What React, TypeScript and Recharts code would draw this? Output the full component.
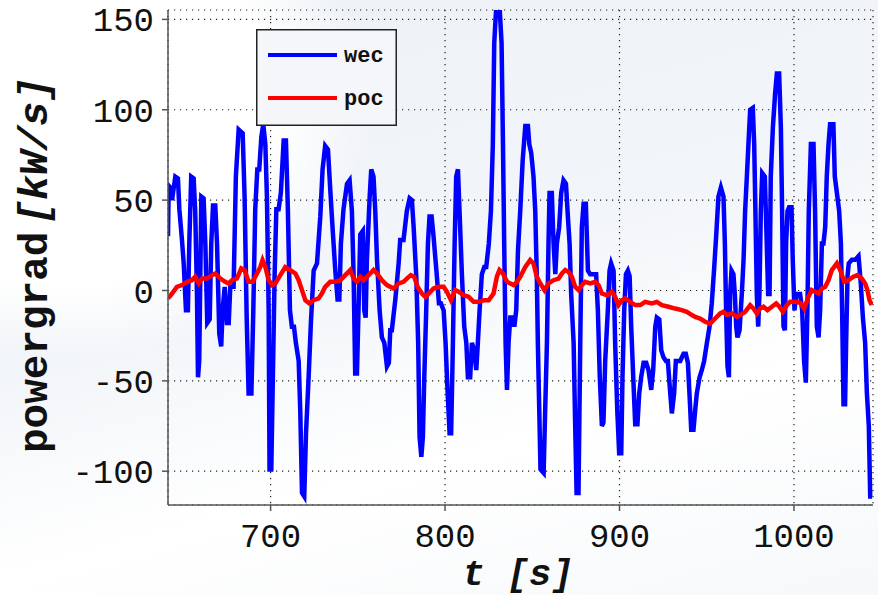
import { LineChart, Line, XAxis, YAxis, CartesianGrid, Legend } from "recharts";

// [t (s), powergrad (kW/s)]
const WEC: [number, number][] = [
  [641.2, 30], [641.6, 58], [642.5, 57], [643.5, 50], [645.4, 63], [646.9, 62], [647.7, 45], [649.2, 28], [650.2, 15], [651.5, -11],
  [652.6, -11], [653.4, 26], [654.5, 63], [655.9, 62], [656.8, 44], [657.8, -2], [658.4, -48], [659.1, -39], [660.3, 52], [661.6, 51],
  [662.6, 26], [663.7, -18], [665.1, -16], [666.0, 26], [667.0, 47], [668.3, 47], [669.3, 26], [670.6, -24], [671.7, -31], [672.5, -11],
  [673.7, 2], [675.0, -18], [676.0, -18], [676.9, 2], [678.8, 2], [680.1, 63], [681.7, 89], [684.0, 87], [685.1, 52], [686.3, -15],
  [687.4, -57], [689.0, -57], [690.1, -11], [691.2, 45], [692.4, 67], [693.5, 67], [694.7, 85], [695.8, 92], [697.0, 81], [697.9, 52],
  [698.9, -11], [699.4, -99], [700.4, -99], [701.3, -48], [702.3, 8], [703.3, 45], [704.6, 45], [705.9, 54], [707.5, 83], [708.8, 83],
  [709.9, 45], [711.1, -11], [712.2, -20], [713.4, -20], [714.5, -29], [716.1, -39], [717.0, -66], [718.0, -112], [719.3, -114], [720.3, -79],
  [721.8, -48], [723.1, -18], [724.7, 11], [726.6, 15], [728.5, 41], [729.8, 67], [731.3, 80], [732.9, 78], [734.2, 56], [735.5, 35],
  [737.1, 11], [738.4, -5], [739.4, -5], [740.3, 26], [741.8, 45],
  [743.8, 59], [745.3, 61], [746.6, 44], [747.6, 8], [748.5, -46], [749.5, -46], [750.4, -11], [751.4, 31], [752.9, 33], [753.7, -11],
  [754.5, -15], [755.2, 17], [756.8, 52], [757.7, 67], [759.0, 63], [760.0, 44], [761.0, 17], [762.5, -11], [763.8, -26], [765.2, -29],
  [766.7, -42], [767.8, -40], [768.6, -22], [769.5, -22], [771.5, -5], [773.4, 15], [774.3, 28], [776.2, 28], [778.1, 44], [779.7, 51],
  [781.0, 50], [782.0, 35], [783.5, 8], [784.6, -29], [785.4, -81], [786.4, -92], [787.3, -81], [788.1, -48], [789.2, -11], [790.2, 26],
  [791.1, 41], [792.3, 41], [793.4, 30], [795.3, 8], [796.5, -7], [797.6, -7], [799.2, -11], [800.3, -29], [801.4, -55], [802.6, -79],
  [803.5, -79], [804.5, -29], [805.5, 26], [806.4, 63], [807.4, 67], [808.3, 44], [809.7, 8], [811.0, -20], [812.2, -29], [813.1, -48],
  [814.4, -48], [815.4, -29], [816.7, -33], [817.9, -44], [818.8, -29], [819.8, -11], [821.1, 9], [822.5, 13], [823.6, 13], [825.1, 26],
  [826.3, 44], [827.4, 81], [828.2, 137], [829.3, 156], [831.3, 156], [832.4, 137], [833.2, 81], [833.9, 26], [834.7, -29], [835.5, -55],
  [836.4, -29], [837.4, -15], [838.7, -15], [839.7, -20], [840.8, -11], [841.8, 22], [843.1, 44],
  [844.5, 72], [846.0, 91], [847.5, 91], [848.3, 81], [849.4, 76], [850.7, 63], [851.7, 44], [852.6, 8], [853.2, -29], [854.0, -66],
  [854.7, -99], [856.5, -101], [857.4, -66], [858.4, -29], [859.3, 26], [859.9, 54], [861.2, 54], [862.2, 26], [863.2, 9], [864.1, 26],
  [865.4, 35], [866.6, 54], [867.9, 61], [869.3, 59], [870.4, 41], [871.4, 26], [872.3, -2], [873.7, -29], [874.6, -75], [875.4, -112],
  [876.5, -112], [877.5, -29], [878.4, 35], [879.4, 48], [880.7, 48], [881.9, 11], [883.2, 9], [885.1, 9], [886.6, 9], [887.6, -11],
  [888.7, -48], [889.9, -75], [890.8, -73], [891.8, -39], [893.3, -11], [894.3, 11], [895.2, 15], [896.6, 11], [897.5, -29], [898.7, -66],
  [899.8, -90], [901.0, -90], [901.7, -48], [902.7, -11], [903.7, 9], [904.8, 11], [905.8, 8], [906.7, -20], [908.0, -51], [909.0, -74],
  [910.3, -74], [911.3, -57], [912.4, -48], [913.8, -40], [915.3, -40], [916.6, -44], [918.2, -55], [919.3, -44], [920.5, -20], [921.4, -15],
  [922.8, -16], [923.9, -33], [925.2, -37], [926.6, -39], [927.7, -39], [929.1, -57], [930.0, -68], [931.3, -57], [932.3, -39], [933.4, -39],
  [934.8, -39], [936.7, -35], [938.0, -35], [939.2, -40], [940.1, -57], [941.1, -77], [942.4, -77], [943.4, -66],
  [944.3, -57], [945.9, -48], [947.2, -44], [948.5, -39], [950.1, -29], [951.6, -20], [952.9, -7], [954.3, 13], [955.4, 30], [956.7, 52],
  [958.1, 57], [959.6, 52], [960.4, 26], [961.1, -11], [961.9, -42], [962.7, -48], [963.4, -2], [964.2, 11], [965.3, 9], [966.1, -2],
  [966.9, -20], [967.6, -26], [968.8, -22], [970.1, -2], [971.1, 17], [972.0, 44], [973.0, 63], [973.9, 81], [974.9, 100], [976.4, 101],
  [977.2, 81], [977.9, 44], [978.7, -2], [979.5, -20], [980.2, -2], [981.0, 44], [981.8, 65], [983.3, 63], [984.4, 26], [985.2, -2],
  [986.0, -2], [986.7, 63], [987.9, 90], [989.2, 109], [990.2, 120], [991.5, 120], [992.5, 90], [993.2, 44], [994.0, -20], [994.8, -22],
  [995.5, 26], [996.3, 44], [997.2, 46], [998.6, 46], [999.3, 17], [1000.3, -11], [1001.3, -2], [1002.0, -2], [1003.5, -2], [1004.7, -11],
  [1005.8, -39], [1006.8, -51], [1007.7, -11], [1008.5, 44], [1009.7, 81], [1011.2, 81], [1012.1, 44], [1013.1, -20], [1014.1, -26], [1015.0, -11],
  [1016.0, 26], [1016.9, 26], [1017.9, 35], [1018.8, 63], [1019.8, 81], [1020.7, 92], [1022.6, 92], [1023.4, 63], [1024.6, 54], [1025.9, 44],
  [1026.9, 26], [1027.6, -11], [1028.4, -63], [1029.3, -63], [1029.9, -29], [1030.7, 8], [1031.4, 15], [1033.2, 17], [1035.1, 17], [1037.0, 19],
  [1038.3, 4], [1039.5, -15], [1040.8, -29], [1041.8, -57], [1042.9, -75], [1043.7, -114], [1044.8, -114],
];

const POC: [number, number][] = [
  [641.2, -4.4], [643.5, -1.7], [646.3, 2], [649.2, 3], [652.1, 4.8], [654.9, 5.7], [656.8, 7.6], [658.8, 3.9], [660.7, 6.6], [663.5, 6.6],
  [666.4, 8.5], [668.3, 9.4], [671.2, 6.6], [674.0, 4.8], [675.9, 3.9], [677.9, 5.7], [680.7, 6.6], [683.2, 12.2], [685.1, 11.3], [687.4, 4.8],
  [689.7, 4.8], [692.2, 9.4], [694.1, 13], [695.4, 16.8], [697.0, 13], [698.9, 5.7], [700.8, 3], [702.7, 3.9], [705.6, 8.5], [708.4, 13],
  [711.3, 11.3], [714.2, 9.4], [716.1, 5.7], [718.0, 0.2], [719.9, -5.4], [722.2, -7.2], [724.7, -5.4], [727.5, -4.4], [729.4, -1.7], [731.3, 2],
  [734.2, 4.8], [737.1, 4.8], [740.0, 5.7], [742.8, 8.5], [745.7, 11.3], [747.6, 6.6], [749.5, 4.8], [751.4, 7.6], [753.3, 5.7], [756.2, 8.5],
  [759.0, 11.3], [761.0, 9.4], [763.8, 5.7], [766.7, 3], [770.5, 1.1], [773.4, 3.9], [776.2, 4.8], [778.1, 6.6], [780.4, 8.5], [782.3, 7.6],
  [784.3, 2], [786.7, -1.7], [788.7, -3.5], [790.6, -1.7], [793.4, 1.1], [796.3, 2], [799.2, 2], [801.1, -0.7], [803.4, -5.4], [805.8, 0.2],
  [807.8, -0.7], [810.6, -2.6], [813.5, -3.5], [816.4, -6.3], [819.2, -6.3], [822.1, -5.4], [825.0, -5.4], [827.8, -1.7], [829.7, 7.6], [831.2, 11.3],
  [833.2, 9.4], [835.5, 4.8], [837.4, 3.9], [839.3, 3], [841.2, 4.8], [843.1, 7.6], [846.0, 13], [848.8, 16.8], [850.7, 14.9], [852.6, 7.6],
  [854.6, 3.9], [857.0, 0.2], [859.3, 3.9], [862.2, 5.7], [865.1, 6.6], [867.0, 9.4], [868.9, 11.3], [870.8, 10.3], [872.7, 7.6], [874.6, 2],
  [876.5, 0.2], [878.4, 2.9], [880.3, 4.8], [883.2, 3.9], [886.1, 4.8], [888.0, 2.9], [889.9, -1.7], [892.8, -2.6], [895.6, -0.7], [897.5, -3.5],
  [899.4, -8.1], [901.4, -5.4], [903.3, -4.4], [906.1, -6.3], [909.0, -8.1], [911.9, -8.1], [914.7, -6.3], [918.5, -7.2], [921.4, -6.3], [924.3, -8.1],
  [928.1, -9], [931.9, -10], [935.7, -10.9], [938.6, -11.8], [941.5, -13.6], [943.4, -14.6], [946.2, -15.5], [949.1, -17.3], [952.0, -18.3], [954.8, -15.5],
  [957.7, -12.7], [959.6, -11.8], [961.5, -13.6], [964.4, -12.7], [967.3, -14.6], [969.2, -13.6], [972.0, -11.8], [974.9, -8.1], [976.8, -10], [978.7, -12.7],
  [980.6, -10], [982.5, -9], [984.8, -10.9], [987.3, -9], [989.8, -7.2], [991.7, -9], [993.6, -11.8], [995.9, -8.1], [997.8, -6.3], [1000.7, -6.3],
  [1003.5, -6.8], [1005.8, -10], [1008.3, -3.5], [1010.2, 0.2], [1012.1, -0.7], [1014.1, -1.7], [1016.0, 1.1], [1017.9, 2], [1019.8, 5.7], [1021.7, 11.3],
  [1024.6, 15], [1026.5, 11.3], [1028.8, 4.8], [1031.2, 5.7], [1034.1, 7.6], [1036.4, 8.5], [1038.9, 6.6], [1040.8, 3.9], [1042.1, 0.2], [1043.3, -5.4],
  [1044.6, -8],
];

const T_TICKS = [700, 800, 900, 1000];
const Y_TICKS = [-100, -50, 0, 50, 100, 150];
const SERIES = ["wec", "poc"];

const MONO = "'Liberation Mono', 'Courier New', monospace";
const BLUE = "#0000ff";
const RED = "#ff0000";

const wecData = WEC.map(([t, v]) => ({ t, v }));
const pocData = POC.map(([t, v]) => ({ t, v }));

function LegendBox() {
  return (
    <svg width={141} height={97} style={{ display: "block" }}>
      <rect x={0.75} y={0.75} width={139.5} height={95.5} fill="#f4f6f9" stroke="#222" strokeWidth={1.5} />
      <line x1={12} y1={26} x2={81} y2={26} stroke={BLUE} strokeWidth={4} />
      <line x1={12} y1={69} x2={81} y2={69} stroke={RED} strokeWidth={4} />
      <text x={88} y={33} fontFamily={MONO} fontWeight="bold" fontSize={22} fill="#111">
        {SERIES[0]}
      </text>
      <text x={88} y={76} fontFamily={MONO} fontWeight="bold" fontSize={22} fill="#111">
        {SERIES[1]}
      </text>
    </svg>
  );
}

export default function App() {
  return (
    <div
      style={{
        position: "absolute",
        left: 0,
        top: 0,
        width: 878,
        height: 595,
        background:
          "radial-gradient(ellipse 300px 250px at 70px 110px, #ffffff 70%, rgba(255,255,255,0) 100%), linear-gradient(165deg, #edf1f6 0%, #f2f5f9 45%, #ffffff 70%, #f6f8fa 100%)",
      }}
    >
      <LineChart width={878} height={595} margin={{ top: 10, right: 5, bottom: 0, left: 0 }}>
        <CartesianGrid stroke="#222" strokeWidth={1.2} strokeDasharray="1.2 4.8" />
        <XAxis
          type="number"
          dataKey="t"
          domain={[641.2, 1045.3]}
          ticks={T_TICKS}
          allowDataOverflow
          height={90}
          stroke="#555"
          strokeWidth={1.5}
          tickSize={6}
          tickMargin={12}
          tick={{ fontSize: 34, fill: "#111", fontFamily: MONO }}
          label={{
            content: () => (
              <text x={518} y={585} textAnchor="middle" fontFamily={MONO} fontSize={37} fontWeight="bold" fontStyle="italic" fill="#111">
                t [s]
              </text>
            ),
          }}
        />
        <YAxis
          type="number"
          domain={[-118.7, 155.2]}
          ticks={Y_TICKS}
          allowDataOverflow
          width={168}
          stroke="#555"
          strokeWidth={1.5}
          tickSize={6}
          tickMargin={8}
          tick={{ fontSize: 34, fill: "#111", fontFamily: MONO }}
          label={{
            content: () => (
              <text
                x={47}
                y={265}
                transform="rotate(-90 47 265)"
                textAnchor="middle"
                fontFamily={MONO}
                fontSize={41}
                fontWeight="bold"
                fill="#111"
              >
                <tspan>powergrad</tspan>
                <tspan fontStyle="italic" dx={7}>[kW/s]</tspan>
              </text>
            ),
          }}
        />
        <Legend
          layout="vertical"
          align="center"
          verticalAlign="middle"
          wrapperStyle={{ position: "absolute", left: 256, top: 29, width: 141, height: 97 }}
          content={() => <LegendBox />}
        />
        <Line data={wecData} dataKey="v" name={SERIES[0]} stroke={BLUE} strokeWidth={4.5} dot={false} isAnimationActive={false} />
        <Line data={pocData} dataKey="v" name={SERIES[1]} stroke={RED} strokeWidth={4.5} dot={false} isAnimationActive={false} />
      </LineChart>
    </div>
  );
}
